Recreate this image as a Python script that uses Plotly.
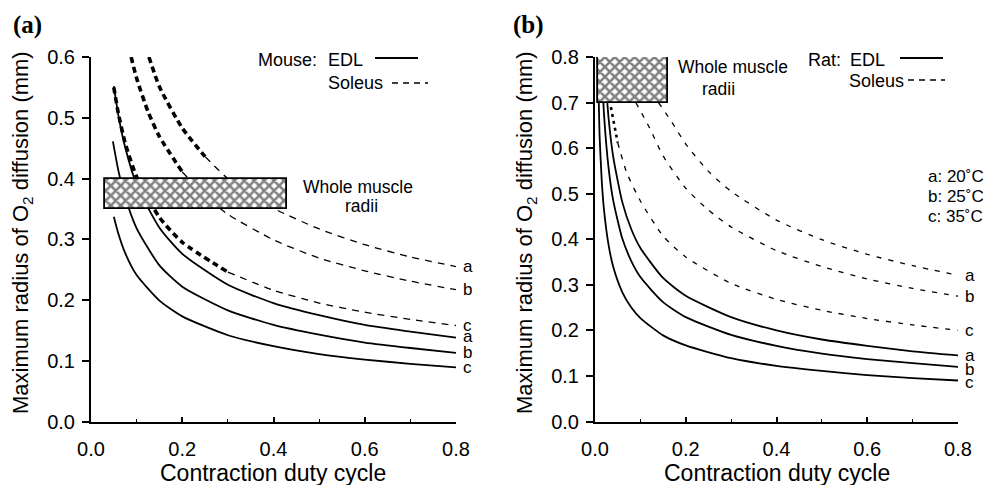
import plotly.graph_objects as go

W, H = 987, 485

# ---------------- Panel (a): Mouse ----------------
a_sol_a_x = [0.127, 0.15, 0.2, 0.25, 0.3, 0.4, 0.5, 0.6, 0.7, 0.8]
a_sol_a_y = [0.600, 0.551, 0.483, 0.436, 0.400, 0.351, 0.317, 0.291, 0.271, 0.255]
a_sol_b_x = [0.088, 0.1, 0.125, 0.15, 0.2, 0.25, 0.3, 0.4, 0.5, 0.6, 0.7, 0.8]
a_sol_b_y = [0.600, 0.565, 0.510, 0.469, 0.411, 0.371, 0.341, 0.299, 0.269, 0.248, 0.231, 0.217]
a_sol_c_x = [0.05, 0.06, 0.075, 0.1, 0.15, 0.2, 0.3, 0.4, 0.5, 0.6, 0.7, 0.8]
a_sol_c_y = [0.550, 0.507, 0.458, 0.403, 0.336, 0.295, 0.246, 0.216, 0.195, 0.180, 0.168, 0.158]
a_edl_a_x = [0.05, 0.06, 0.075, 0.1, 0.15, 0.2, 0.3, 0.4, 0.5, 0.6, 0.7, 0.8]
a_edl_a_y = [0.552, 0.504, 0.451, 0.390, 0.319, 0.276, 0.225, 0.195, 0.175, 0.159, 0.148, 0.138]
a_edl_b_x = [0.048, 0.06, 0.075, 0.1, 0.15, 0.2, 0.3, 0.4, 0.5, 0.6, 0.7, 0.8]
a_edl_b_y = [0.461, 0.413, 0.369, 0.318, 0.257, 0.222, 0.183, 0.159, 0.143, 0.130, 0.121, 0.113]
a_edl_c_x = [0.05, 0.06, 0.075, 0.1, 0.15, 0.2, 0.3, 0.4, 0.5, 0.6, 0.7, 0.8]
a_edl_c_y = [0.337, 0.309, 0.277, 0.241, 0.199, 0.173, 0.142, 0.124, 0.111, 0.102, 0.095, 0.089]
a_box_x = [0.03, 0.43]
a_box_y = [0.35, 0.40]

# ---------------- Panel (b): Rat ----------------
b_sol_a_x = [0.14, 0.17, 0.2, 0.25, 0.3, 0.4, 0.5, 0.6, 0.7, 0.8]
b_sol_a_y = [0.700, 0.656, 0.609, 0.549, 0.505, 0.442, 0.399, 0.367, 0.342, 0.321]
b_sol_b_x = [0.09, 0.12, 0.15, 0.2, 0.25, 0.3, 0.4, 0.5, 0.6, 0.7, 0.8]
b_sol_b_y = [0.700, 0.645, 0.583, 0.512, 0.464, 0.427, 0.375, 0.340, 0.313, 0.292, 0.275]
b_sol_c_x = [0.035, 0.05, 0.07, 0.1, 0.15, 0.2, 0.3, 0.4, 0.5, 0.6, 0.7, 0.8]
b_sol_c_y = [0.690, 0.612, 0.546, 0.484, 0.407, 0.361, 0.303, 0.268, 0.244, 0.226, 0.212, 0.200]
b_edl_a_x = [0.02, 0.03, 0.04, 0.06, 0.08, 0.1, 0.15, 0.2, 0.3, 0.4, 0.5, 0.6, 0.7, 0.8]
b_edl_a_y = [0.800, 0.665, 0.582, 0.482, 0.422, 0.381, 0.315, 0.276, 0.229, 0.200, 0.180, 0.166, 0.154, 0.145]
b_edl_b_x = [0.014, 0.02, 0.03, 0.04, 0.06, 0.08, 0.1, 0.15, 0.2, 0.3, 0.4, 0.5, 0.6, 0.7, 0.8]
b_edl_b_y = [0.800, 0.672, 0.556, 0.486, 0.402, 0.352, 0.317, 0.262, 0.229, 0.190, 0.166, 0.149, 0.137, 0.128, 0.120]
b_edl_c_x = [0.006, 0.01, 0.015, 0.02, 0.03, 0.04, 0.06, 0.08, 0.1, 0.15, 0.2, 0.3, 0.4, 0.5, 0.6, 0.7, 0.8]
b_edl_c_y = [0.800, 0.630, 0.526, 0.463, 0.387, 0.340, 0.284, 0.250, 0.227, 0.189, 0.167, 0.139, 0.122, 0.111, 0.102, 0.095, 0.090]
b_box_x = [0.007, 0.16]
b_box_y = [0.70, 0.80]

x_ticks = [0.0, 0.2, 0.4, 0.6, 0.8]
end_labels = ["a", "b", "c", "a", "b", "c"]
temp_labels = ["a: 20˚C", "b: 25˚C", "c: 35˚C"]

FONT = "Liberation Sans, Arial, sans-serif"

fig = go.Figure()


def add_line(x, y, xa, ya, width=1.8, dash="solid"):
    fig.add_trace(go.Scatter(x=x, y=y, xaxis=xa, yaxis=ya, mode="lines",
                             line=dict(color="black", width=width, dash=dash, shape="spline", smoothing=0.6),
                             showlegend=False, hoverinfo="skip"))


def add_split(x, y, xa, ya, split, thick_w=3.6, thick_dash="6px,4px", thin_w=1.3, thin_dash="7px,6px"):
    xs1 = [v for v in x if v <= split]
    ys1 = [y[i] for i, v in enumerate(x) if v <= split]
    xs2 = [v for v in x if v >= split]
    ys2 = [y[i] for i, v in enumerate(x) if v >= split]
    if len(xs1) > 1:
        add_line(xs1, ys1, xa, ya, thick_w, thick_dash)
    add_line(xs2, ys2, xa, ya, thin_w, thin_dash)


# Panel (a) curves
add_split(a_sol_a_x, a_sol_a_y, "x", "y", 0.25)
add_split(a_sol_b_x, a_sol_b_y, "x", "y", 0.2)
add_split(a_sol_c_x, a_sol_c_y, "x", "y", 0.3)
for cx, cy in [(a_edl_a_x, a_edl_a_y), (a_edl_b_x, a_edl_b_y), (a_edl_c_x, a_edl_c_y)]:
    add_line(cx, cy, "x", "y")

# Panel (b) curves
add_line(b_sol_a_x, b_sol_a_y, "x2", "y2", 1.3, "5px,7px")
add_line(b_sol_b_x, b_sol_b_y, "x2", "y2", 1.3, "5px,7px")
add_split(b_sol_c_x, b_sol_c_y, "x2", "y2", 0.05, thick_w=2.6, thick_dash="3px,4px", thin_w=1.3, thin_dash="5px,7px")
for cx, cy in [(b_edl_a_x, b_edl_a_y), (b_edl_b_x, b_edl_b_y), (b_edl_c_x, b_edl_c_y)]:
    add_line(cx, cy, "x2", "y2")

# Hatched boxes on overlay axes (drawn above the curves)
for bx, by, xa, ya in [(a_box_x, a_box_y, "x3", "y3"), (b_box_x, b_box_y, "x4", "y4")]:
    fig.add_trace(go.Bar(x=[(bx[0] + bx[1]) / 2], y=[by[1] - by[0]], base=[by[0]],
                         width=[bx[1] - bx[0]], xaxis=xa, yaxis=ya,
                         marker=dict(color="white", line=dict(color="black", width=1.8),
                                     pattern=dict(shape="x", fgcolor="black", bgcolor="white",
                                                  size=7, solidity=0.6)),
                         showlegend=False, hoverinfo="skip"))

ydom = [1 - 421.5 / H, 1 - 57 / H]
xdom_a = [91 / W, 456 / W]
xdom_b = [595 / W, 958 / W]

TICKFONT = dict(family=FONT, size=20, color="black")
common_x = dict(range=[0, 0.8], showline=True, linecolor="black", linewidth=2, ticks="inside",
                ticklen=5, tickwidth=1.5, tickcolor="black", tickvals=x_ticks, tickformat=".1f",
                minor=dict(dtick=0.1, ticks="inside", ticklen=3, tickcolor="black", tickwidth=1.2),
                showgrid=False, zeroline=False, tickfont=TICKFONT, fixedrange=True,
                ticklabelstandoff=8)
common_y = dict(showline=True, linecolor="black", linewidth=2, ticks="outside", ticklen=7,
                tickwidth=1.5, tickcolor="black", dtick=0.1, tickformat=".1f", showgrid=False,
                zeroline=False, tickfont=TICKFONT, fixedrange=True, ticklabelstandoff=3)

fig.update_layout(
    width=W, height=H, margin=dict(l=0, r=0, t=0, b=0, autoexpand=False),
    paper_bgcolor="white", plot_bgcolor="white",
    xaxis=dict(domain=xdom_a, anchor="y", **common_x),
    yaxis=dict(domain=ydom, anchor="x", range=[0, 0.6], **common_y),
    xaxis2=dict(domain=xdom_b, anchor="y2", **common_x),
    yaxis2=dict(domain=ydom, anchor="x2", range=[0, 0.8], **common_y),
    xaxis3=dict(overlaying="x", anchor="y3", range=[0, 0.8], visible=False, fixedrange=True),
    yaxis3=dict(overlaying="y", anchor="x3", range=[0, 0.6], visible=False, fixedrange=True),
    xaxis4=dict(overlaying="x2", anchor="y4", range=[0, 0.8], visible=False, fixedrange=True),
    yaxis4=dict(overlaying="y2", anchor="x4", range=[0, 0.8], visible=False, fixedrange=True),
    showlegend=False, bargap=0,
)

ann = []


def txt(px, py, text, size=18, xanchor="left", family=FONT, **kw):
    ann.append(dict(x=px / W, y=1 - py / H, xref="paper", yref="paper", text=text,
                    showarrow=False, xanchor=xanchor, yanchor="middle",
                    font=dict(family=family, size=size, color="black"), **kw))


# Panel labels
txt(11, 25, "<b>(a)</b>", 25, family="Liberation Serif, Times New Roman, serif")
txt(511, 25, "<b>(b)</b>", 25, family="Liberation Serif, Times New Roman, serif")

# Axis titles
for cx in [273, 777]:
    txt(cx, 473, "Contraction duty cycle", 23, xanchor="center")
for cx in [22, 526]:
    ann.append(dict(x=cx / W, y=1 - 233 / H, xref="paper", yref="paper",
                    text="Maximum radius of O<sub>2</sub> diffusion (mm)", showarrow=False,
                    textangle=-90, xanchor="center", yanchor="middle",
                    font=dict(family=FONT, size=22, color="black")))

# Legends
txt(256, 60, "Mouse:", 18)
txt(326, 60, "EDL", 18)
txt(326, 83, "Soleus", 18)
txt(806, 60, "Rat:", 18)
txt(848, 60, "EDL", 18)
txt(847, 81, "Soleus", 18)

# Whole muscle radii labels
txt(301, 187, "Whole muscle", 17.5)
txt(361, 206, "radii", 17.5, xanchor="center")
txt(676, 67, "Whole muscle", 17.5)
txt(718, 89, "radii", 17.5, xanchor="center")

# Temperature key
for i, t in enumerate(temp_labels):
    txt(926, 176 + 20 * i, t, 17)

# End labels at x = 0.8
a_ends = [a_sol_a_y[-1], a_sol_b_y[-1], a_sol_c_y[-1], a_edl_a_y[-1], a_edl_b_y[-1], a_edl_c_y[-1]]
b_ends = [b_sol_a_y[-1], b_sol_b_y[-1], b_sol_c_y[-1], b_edl_a_y[-1], b_edl_b_y[-1], b_edl_c_y[-1]]
a_adj = [0, 0, 0, 0.002, 0, 0]
for lab, yv, adj in zip(end_labels, a_ends, a_adj):
    ann.append(dict(x=0.8, y=yv + adj, xref="x", yref="y", text=lab, showarrow=False,
                    xanchor="left", yanchor="middle", xshift=5,
                    font=dict(family=FONT, size=17, color="black")))
b_adj = [0, 0, 0, 0.0, -0.005, -0.005]
for lab, yv, adj in zip(end_labels, b_ends, b_adj):
    ann.append(dict(x=0.8, y=yv + adj, xref="x2", yref="y2", text=lab, showarrow=False,
                    xanchor="left", yanchor="middle", xshift=5,
                    font=dict(family=FONT, size=17, color="black")))

fig.update_layout(annotations=ann)

# Legend line samples
shapes = [
    dict(type="line", xref="paper", yref="paper", x0=375 / W, x1=418 / W, y0=1 - 58 / H, y1=1 - 58 / H,
         line=dict(color="black", width=2)),
    dict(type="line", xref="paper", yref="paper", x0=392 / W, x1=428 / W, y0=1 - 83 / H, y1=1 - 83 / H,
         line=dict(color="black", width=1.3, dash="6px,5px")),
    dict(type="line", xref="paper", yref="paper", x0=900 / W, x1=943 / W, y0=1 - 58 / H, y1=1 - 58 / H,
         line=dict(color="black", width=2)),
    dict(type="line", xref="paper", yref="paper", x0=908 / W, x1=945 / W, y0=1 - 80 / H, y1=1 - 80 / H,
         line=dict(color="black", width=1.3, dash="6px,5px")),
]
fig.update_layout(shapes=shapes)

post = ("document.documentElement.style.margin='0';document.body.style.margin='0';"
        "document.body.style.overflow='hidden';"
        "var gd=document.getElementById('{plot_id}');if(window.Plotly&&gd){Plotly.Plots.resize(gd);}")
fig.write_html("out.html", post_script=post)
